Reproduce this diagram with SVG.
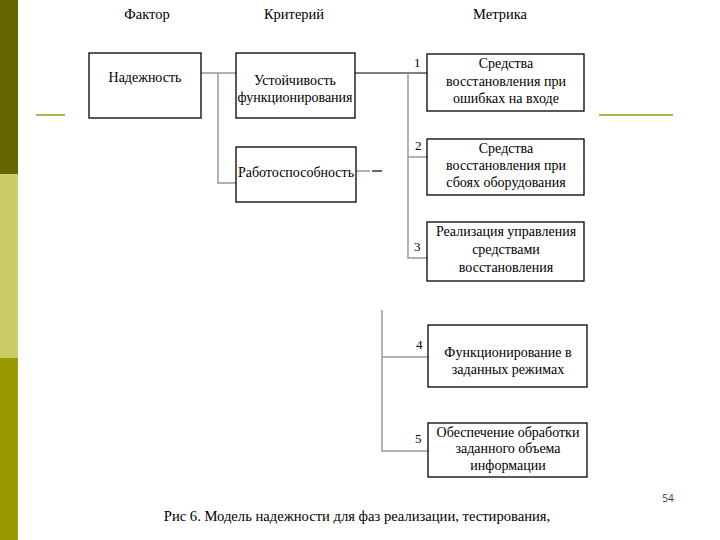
<svg xmlns="http://www.w3.org/2000/svg" width="720" height="540" viewBox="0 0 720 540">
<style>
.box{fill:#fff;stroke:#000;stroke-width:1.3}
.t{font-family:'Liberation Serif','Times New Roman','DejaVu Serif',serif;font-size:14px;fill:#000;text-anchor:middle}
.cap{font-family:'Liberation Serif','Times New Roman','DejaVu Serif',serif;font-size:14.6px;fill:#000;text-anchor:middle}
.h{font-family:'Liberation Serif','Times New Roman','DejaVu Serif',serif;font-size:14.5px;fill:#000;text-anchor:middle}
.n{font-family:'Liberation Serif','Times New Roman','DejaVu Serif',serif;font-size:13px;fill:#000}
.g{stroke:#999;stroke-width:1.5;fill:none}
.k{stroke:#000;stroke-width:1.2;fill:none}
.deco{stroke:#b3b34d;stroke-width:2}
</style>
<rect width="720" height="540" fill="#fff"/>
<g id="sidebar">
<rect x="0" y="0" width="18" height="174" fill="#666600"/>
<rect x="0" y="174" width="18" height="184" fill="#cccc66"/>
<rect x="0" y="358" width="18" height="182" fill="#999900"/>
<line class="deco" x1="36" y1="115" x2="65" y2="115"/>
<line class="deco" x1="599" y1="115" x2="673" y2="115"/>
</g>
<g id="headers">
<text class="h" x="147" y="19">Фактор</text>
<text class="h" x="294" y="19">Критерий</text>
<text class="h" x="500" y="19">Метрика</text>
</g>
<g id="connectors">
<polyline class="g" points="201,73 236,73"/>
<polyline class="g" points="218,73 218,183 236,183"/>
<polyline class="k" points="355,73 427,73"/>
<polyline class="g" points="408,73 408,258 427,258"/>
<polyline class="g" points="408,157 427,157"/>
<polyline class="g" points="356,171 370,171"/>
<polyline class="k" points="372,171 382,171"/>
<polyline class="g" points="382,310 382,451 428,451"/>
<polyline class="g" points="382,357 428,357"/>
</g>
<g id="n-reliability">
<rect class="box" x="89" y="53" width="112" height="65"/>
<text class="t" x="145" y="82">Надежность</text>
</g>
<g id="n-stability">
<rect class="box" x="236" y="53" width="119" height="65"/>
<text class="t" x="295" y="85">Устойчивость</text>
<text class="t" x="295" y="102">функционирования</text>
</g>
<g id="n-workability">
<rect class="box" x="236" y="147" width="120" height="55"/>
<text class="t" x="296" y="177">Работоспособность</text>
</g>
<g id="m1">
<text class="n" x="414" y="67">1</text>
<rect class="box" x="427" y="54" width="157" height="57"/>
<text class="t" x="506" y="68">Средства</text>
<text class="t" x="506" y="86">восстановления при</text>
<text class="t" x="506" y="103">ошибках на входе</text>
</g>
<g id="m2">
<text class="n" x="415" y="150">2</text>
<rect class="box" x="427" y="139" width="157" height="56"/>
<text class="t" x="506" y="153">Средства</text>
<text class="t" x="506" y="170">восстановления при</text>
<text class="t" x="506" y="187">сбоях оборудования</text>
</g>
<g id="m3">
<text class="n" x="414" y="251">3</text>
<rect class="box" x="427" y="222" width="157" height="59"/>
<text class="t" x="506" y="236">Реализация управления</text>
<text class="t" x="506" y="254">средствами</text>
<text class="t" x="506" y="272">восстановления</text>
</g>
<g id="m4">
<text class="n" x="416" y="349">4</text>
<rect class="box" x="428" y="325" width="159" height="62"/>
<text class="t" x="508" y="357">Функционирование в</text>
<text class="t" x="508" y="374">заданных режимах</text>
</g>
<g id="m5">
<text class="n" x="415" y="443">5</text>
<rect class="box" x="428" y="423" width="159" height="54"/>
<text class="t" x="508" y="437">Обеспечение обработки</text>
<text class="t" x="508" y="453">заданного объема</text>
<text class="t" x="508" y="470">информации</text>
</g>
<g id="caption">
<text class="cap" x="357" y="521">Рис 6. Модель надежности для фаз реализации, тестирования,</text>
<text x="668" y="502" font-family="'Open Sans',sans-serif" font-size="10" fill="#333" text-anchor="middle">54</text>
</g>
</svg>
